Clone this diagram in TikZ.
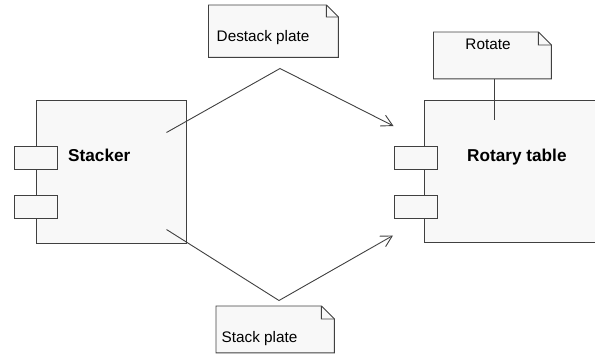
\documentclass[tikz,border=0pt]{standalone}
\usepackage{fontspec}
\setmainfont{Liberation Sans}
\usetikzlibrary{arrows.meta}
\definecolor{ink}{HTML}{404040}
\definecolor{paper}{HTML}{F8F8F8}
\tikzset{
  comp/.style={draw=ink, fill=paper, line width=0.9bp, inner sep=0pt, anchor=north west},
  port/.style={draw=ink, fill=paper, line width=0.9bp, inner sep=0pt,
               minimum width=43bp, minimum height=23.5bp, anchor=north west},
  notebox/.style={inner sep=0pt, anchor=north west},
  noteline/.style={draw=ink, fill=paper, line width=0.9bp, line join=miter},
  regular/.style={font=\fontsize{15.3bp}{17bp}\selectfont, inner sep=0pt},
  title/.style={font=\bfseries\fontsize{17.2bp}{19bp}\selectfont, inner sep=0pt},
  link/.style={draw=ink, line width=0.9bp},
  flow/.style={link, -{Straight Barb[length=11bp, width=12bp, line width=0.9bp]}}
}
\begin{document}
\begin{tikzpicture}[x=1bp, y=-1bp]
  \useasboundingbox (0,0) rectangle (595,356);

  % Stacker component with its two ports
  \node[comp, minimum width=150bp, minimum height=143bp] (stacker) at (36,100) {};
  \node[port] (sp1) at (14,145.5) {};
  \node[port] (sp2) at (14,194.5) {};
  \node[title, anchor=base west] (stackerLabel) at (68,161.7) {Stacker};

  % Rotary table component, running past the right edge
  \node[comp, minimum width=180bp, minimum height=142bp] (rotary) at (423.5,100) {};
  \node[port] (rp1) at (393.5,145.5) {};
  \node[port] (rp2) at (393.5,194.5) {};
  \node[title, anchor=base west] (rotaryLabel) at (467,161.7) {Rotary table};

  % Notes with a folded corner
  \node[notebox, minimum width=129.5bp, minimum height=52bp] (destack) at (208.5,5) {};
  \path[noteline] (destack.north west) -- ([xshift=-12bp]destack.north east)
    -- ([yshift=-12bp]destack.north east) -- (destack.south east)
    -- (destack.south west) -- cycle;
  \draw[link] ([xshift=-12bp]destack.north east) -- ++(0,12) -- ([yshift=-12bp]destack.north east);
  \node[regular, anchor=base west] (destackLabel) at (216.5,41.7) {Destack plate};

  \node[notebox, minimum width=117.5bp, minimum height=46.5bp] (rotate) at (433.5,32) {};
  \path[noteline] (rotate.north west) -- ([xshift=-13bp]rotate.north east)
    -- ([yshift=-13bp]rotate.north east) -- (rotate.south east)
    -- (rotate.south west) -- cycle;
  \draw[link] ([xshift=-13bp]rotate.north east) -- ++(0,13) -- ([yshift=-13bp]rotate.north east);
  \node[regular, anchor=base] (rotateLabel) at (488,49.3) {Rotate};

  \node[notebox, minimum width=118bp, minimum height=46.5bp] (stackp) at (216,306) {};
  \path[noteline] (stackp.north west) -- ([xshift=-13bp]stackp.north east)
    -- ([yshift=-13bp]stackp.north east) -- (stackp.south east)
    -- (stackp.south west) -- cycle;
  \draw[link] ([xshift=-13bp]stackp.north east) -- ++(0,13) -- ([yshift=-13bp]stackp.north east);
  \node[regular, anchor=base west] (stackpLabel) at (221.5,342) {Stack plate};

  % Message flows between the components
  \coordinate (outTop) at (166.5,132.5);
  \coordinate (peak) at (280,68.5);
  \coordinate (inTop) at (393.5,126);
  \coordinate (outBot) at (166.5,229.5);
  \coordinate (valley) at (279,300.5);
  \coordinate (inBot) at (393,235.5);
  \draw[flow] (outTop) -- (peak) -- (inTop);
  \draw[flow] (outBot) -- (valley) -- (inBot);

  % Note attached to the rotary table
  \coordinate (rotateEnd) at (494.3,119.5);
  \draw[link] (rotate.south -| rotateEnd) -- (rotateEnd);
\end{tikzpicture}
\end{document}
